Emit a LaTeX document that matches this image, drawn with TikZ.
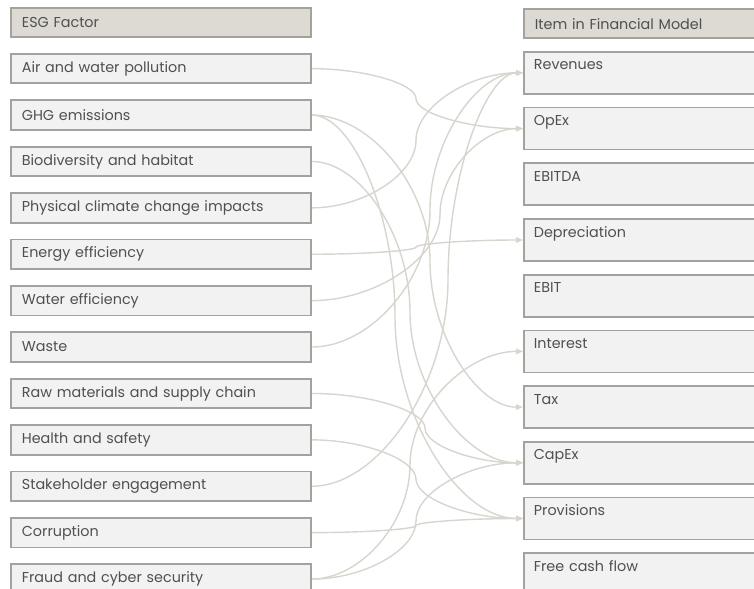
\documentclass[tikz,border=0pt]{standalone}
\usepackage{fontspec}
\setmainfont{Poppins}
\usepackage{xcolor}
\usetikzlibrary{arrows.meta,calc}

\definecolor{boxfill}{HTML}{F2F2F2}
\definecolor{headfill}{HTML}{DDD9D3}
\definecolor{boxline}{HTML}{A5A29E}
\definecolor{linkcol}{HTML}{D8D4CE}
\definecolor{txt}{HTML}{505050}

% curved connector: east of #1 to west of #2, vertical turn at x = #3
\newcommand{\link}[3]{%
  \draw[link] let \p1 = (#1.east), \p2 = (#2.west) in
    (#1.east) .. controls ({(\x1+#3)/2},\y1) and (#3,{\y1+(\y2-\y1)/4})
    .. (#3,{(\y1+\y2)/2})
    .. controls (#3,{\y1+3*(\y2-\y1)/4}) and ({(#3+\x2)/2},\y2) .. (#2.west);
}

\begin{document}
\begin{tikzpicture}[x=1bp, y=-1bp,
    factor/.style={anchor=north west, draw=boxline, fill=boxfill, line width=1.8bp,
      minimum height=29.5bp, text width=278bp, inner xsep=11bp, align=left,
      font=\fontsize{14.4}{16}\selectfont, text=txt},
    item/.style={anchor=north west, draw=boxline, fill=boxfill, line width=1.8bp,
      text width=240bp, inner xsep=10bp, inner ysep=7bp, align=left,
      text height=11bp, text depth=17bp,
      font=\fontsize{14.4}{16}\selectfont, text=txt},
    link/.style={draw=linkcol, line width=1.4bp, -{Triangle[length=7bp,width=5.5bp]}}]
  \useasboundingbox (0,0) rectangle (754,589);
  \clip (0,0) rectangle (754,589);

  % left column
  \node[factor, fill=headfill] (Head) at (10,7) {ESG Factor};
  \node[factor] (Air)    at (10,53)    {Air and water pollution};
  \node[factor] (GHG)    at (10,99.4)  {GHG emissions};
  \node[factor] (Bio)    at (10,145.8) {Biodiversity and habitat};
  \node[factor] (Phys)   at (10,192.2) {Physical climate change impacts};
  \node[factor] (Energy) at (10,238.6) {Energy efficiency};
  \node[factor] (Water)  at (10,285)   {Water efficiency};
  \node[factor] (Waste)  at (10,331.4) {Waste};
  \node[factor] (Raw)    at (10,377.8) {Raw materials and supply chain};
  \node[factor] (Health) at (10,424.2) {Health and safety};
  \node[factor] (Stake)  at (10,470.6) {Stakeholder engagement};
  \node[factor] (Corr)   at (10,517)   {Corruption};
  \node[factor] (Fraud)  at (10,563.4) {Fraud and cyber security};

  % right column
  \node[factor, fill=headfill] (ItemHead) at (523,8) {Item in Financial Model};
  \node[item] (Rev)    at (523,51)    {Revenues};
  \node[item] (OpEx)   at (523,106.7) {OpEx};
  \node[item] (EBITDA) at (523,162.4) {EBITDA};
  \node[item] (Dep)    at (523,218.1) {Depreciation};
  \node[item] (EBIT)   at (523,273.8) {EBIT};
  \node[item] (Int)    at (523,329.5) {Interest};
  \node[item] (Tax)    at (523,385.2) {Tax};
  \node[item] (CapEx)  at (523,440.9) {CapEx};
  \node[item] (Prov)   at (523,496.6) {Provisions};
  \node[item] (FCF)    at (523,552.3) {Free cash flow};

  \link{Air}{OpEx}{416bp}
  \link{GHG}{Tax}{430bp}
  \link{GHG}{Prov}{395bp}
  \link{Bio}{CapEx}{410bp}
  \link{Phys}{Rev}{416bp}
  \link{Energy}{Dep}{416bp}
  \link{Water}{OpEx}{440bp}
  \link{Waste}{Rev}{430bp}
  \link{Raw}{CapEx}{425bp}
  \link{Health}{Prov}{416bp}
  \link{Stake}{Rev}{448bp}
  \link{Corr}{Prov}{416bp}
  \link{Fraud}{Int}{410bp}
  \link{Fraud}{CapEx}{416bp}
\end{tikzpicture}
\end{document}
